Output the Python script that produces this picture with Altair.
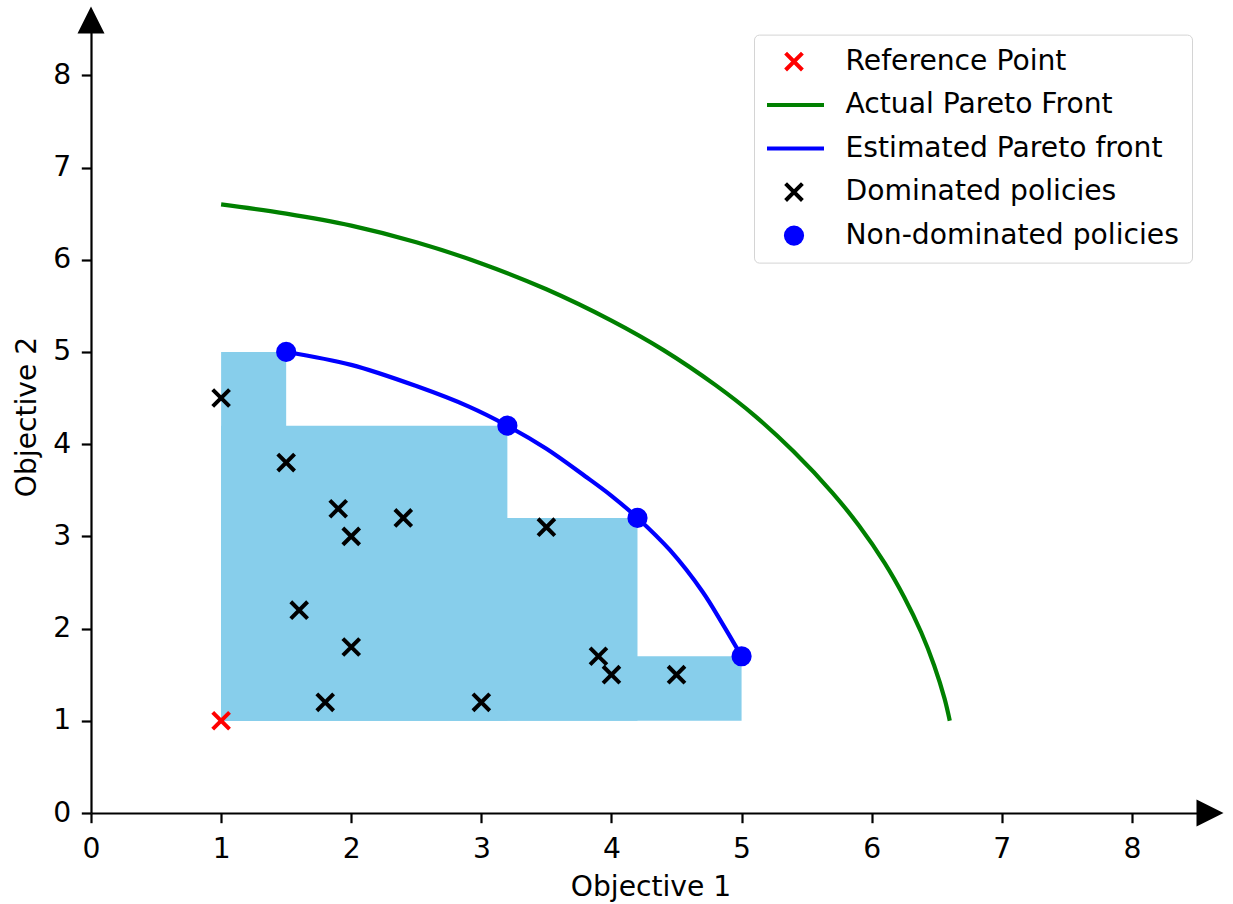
import altair as alt
import pandas as pd

# ---- data ----
SERIES = ["Reference Point", "Actual Pareto Front", "Estimated Pareto front",
          "Dominated policies", "Non-dominated policies"]
COLORS = ["#ff0000", "#008000", "#0000ff", "#000000", "#0000ff"]

ref_x = [1.0]
ref_y = [1.0]

dom_x = [1.0, 1.5, 1.9, 2.0, 2.4, 3.5, 1.6, 2.0, 1.8, 3.0, 3.9, 4.0, 4.5]
dom_y = [4.5, 3.8, 3.3, 3.0, 3.2, 3.1, 2.2, 1.8, 1.2, 1.2, 1.7, 1.5, 1.5]

nd_x = [1.5, 3.2, 4.2, 5.0]
nd_y = [5.0, 4.2, 3.2, 1.7]

actual_x = [1.0, 1.5, 2.0, 2.5, 3.0, 3.5, 4.0, 4.4, 4.8, 5.1, 5.4, 5.7, 5.9,
            6.1, 6.25, 6.38, 6.48, 6.56, 6.6]
actual_y = [6.60, 6.50, 6.37, 6.19, 5.96, 5.68, 5.34, 5.02, 4.64, 4.31, 3.92, 3.47, 3.12,
            2.71, 2.34, 1.96, 1.60, 1.24, 1.00]

est_x = [1.5, 2.0, 2.5, 2.9, 3.2, 3.5, 3.8, 4.0, 4.2, 4.45, 4.7, 4.85, 5.0]
est_y = [5.0, 4.86, 4.63, 4.41, 4.2, 3.95, 3.65, 3.44, 3.2, 2.85, 2.40, 2.06, 1.7]

TICKS = [0, 1, 2, 3, 4, 5, 6, 7, 8]
XMAX = 8.6
YMAX = 8.6

# ---- symbol shapes (unit paths, drawn at a common symbol size) ----
CROSS = "M-0.28,-0.28L0.28,0.28M-0.28,0.28L0.28,-0.28"
LINE = "M-1,0L1,0"
DOT = "M-0.27,0A0.27,0.27,0,1,0,0.27,0A0.27,0.27,0,1,0,-0.27,0Z"
SHAPES = [CROSS, LINE, LINE, CROSS, DOT]
ARROW_UP = "M0,-1L1,1L-1,1Z"
ARROW_RIGHT = "M1,0L-1,-1L-1,1Z"

# ---- tables ----
pts = pd.concat([
    pd.DataFrame({"x": dom_x, "y": dom_y, "series": SERIES[3]}),
    pd.DataFrame({"x": ref_x, "y": ref_y, "series": SERIES[0]}),
    pd.DataFrame({"x": nd_x, "y": nd_y, "series": SERIES[4]}),
], ignore_index=True)

lines = pd.concat([
    pd.DataFrame({"x": actual_x, "y": actual_y, "series": SERIES[1]}),
    pd.DataFrame({"x": est_x, "y": est_y, "series": SERIES[2]}),
], ignore_index=True)

boxes = pd.DataFrame({"x": [ref_x[0]] * len(nd_x), "x2": nd_x,
                      "y": [ref_y[0]] * len(nd_y), "y2": nd_y})

arrow_up = pd.DataFrame({"x": [0.0], "y": [YMAX]})
arrow_right = pd.DataFrame({"x": [XMAX], "y": [0.0]})

FONT = "DejaVu Sans"
FS = 28.2

xscale = alt.Scale(domain=[0, XMAX], nice=False, zero=False)
yscale = alt.Scale(domain=[0, YMAX], nice=False, zero=False)

common_axis = dict(values=TICKS, format="d", grid=False, domainColor="black",
                   domainWidth=2.2, tickColor="black", tickWidth=2.2, tickSize=9.7,
                   labelFont=FONT, labelFontSize=FS, labelColor="black",
                   labelFlush=False, titleFont=FONT, titleFontSize=FS,
                   titleFontWeight="normal", titleColor="black")

xaxis = alt.Axis(labelPadding=12.5, titleBaseline="alphabetic", titleY=82.7,
                 **common_axis)
yaxis = alt.Axis(labelPadding=10.6, titleBaseline="alphabetic", titleX=-56,
                 titleY=396.5, titleAngle=-90, titleAlign="center", **common_axis)

X = alt.X("x:Q", scale=xscale, axis=xaxis, title="Objective 1")
Y = alt.Y("y:Q", scale=yscale, axis=yaxis, title="Objective 2")

leg = alt.Legend(title=None, orient="none", legendX=663, legendY=14.6,
                 padding=13, symbolOffset=-5, labelOffset=19.5, rowPadding=14.5,
                 clipHeight=28, strokeColor="#d4d4d4", fillColor="white",
                 cornerRadius=5, symbolSize=3600, symbolStrokeWidth=4,
                 labelFont=FONT, labelFontSize=FS, labelColor="black",
                 labelLimit=800)

stroke_scale = alt.Scale(domain=SERIES, range=COLORS)
fill_scale = alt.Scale(domain=SERIES, range=COLORS)
shape_scale = alt.Scale(domain=SERIES, range=SHAPES)

rect = alt.Chart(boxes).mark_rect(color="#87ceeb", strokeWidth=0).encode(
    x=X, x2="x2:Q", y=Y, y2="y2:Q")

line = alt.Chart(lines).mark_line(strokeWidth=4.2, interpolate="catmull-rom").encode(
    x=X, y=Y,
    stroke=alt.Stroke("series:N", scale=stroke_scale, legend=leg),
    order="x:Q")

points = alt.Chart(pts).mark_point(filled=True, opacity=1, strokeWidth=4, size=3600).encode(
    x=X, y=Y,
    fill=alt.Fill("series:N", scale=fill_scale, legend=leg),
    stroke=alt.Stroke("series:N", scale=stroke_scale, legend=leg),
    shape=alt.Shape("series:N", scale=shape_scale, legend=leg))

up = alt.Chart(arrow_up).mark_point(shape=ARROW_UP, filled=True, color="black",
                                    size=729, opacity=1, strokeWidth=0).encode(x=X, y=Y)
right = alt.Chart(arrow_right).mark_point(shape=ARROW_RIGHT, filled=True, color="black",
                                          size=729, opacity=1, strokeWidth=0).encode(x=X, y=Y)

chart = alt.layer(rect, line, points, up, right).properties(
    width=1119, height=793,
    padding={"left": 91, "top": 20, "right": 23, "bottom": 91},
    autosize=alt.AutoSizeParams(type="none"),
    background="white",
).configure_view(stroke=None)

chart.save("out.html", embed_options={"renderer": "svg", "actions": False})
